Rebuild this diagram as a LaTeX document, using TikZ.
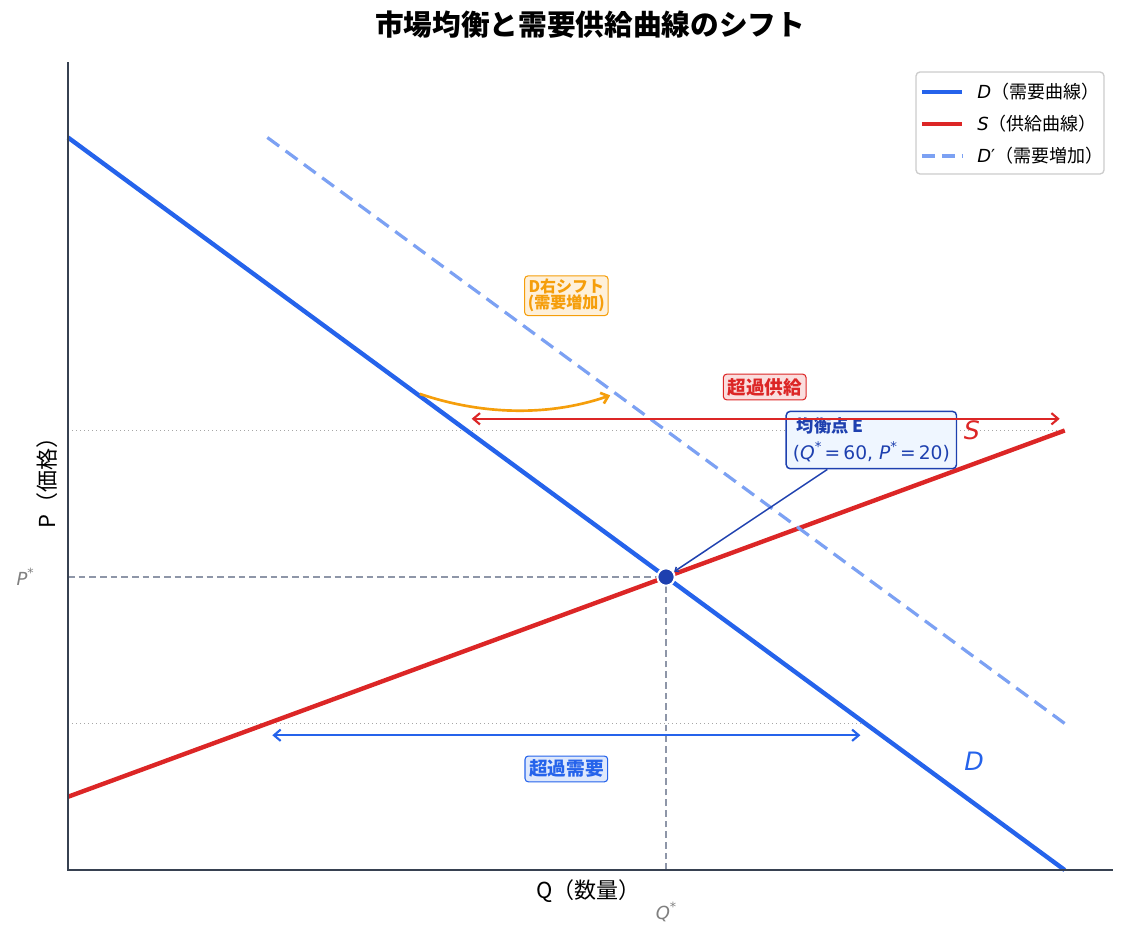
\documentclass[tikz,border=0pt]{standalone}
\usepackage{fontspec}
\setmainfont{Noto Sans CJK JP}
\newfontfamily\dvs{DejaVu Sans}
\usetikzlibrary{arrows.meta}
\definecolor{dcol}{HTML}{2563EB}
\definecolor{scol}{HTML}{DC2626}
\definecolor{shiftcol}{HTML}{F59E0B}
\definecolor{eqcol}{HTML}{1E40AF}
\definecolor{eqfill}{HTML}{EFF6FF}
\definecolor{axcol}{HTML}{374151}
\definecolor{refcol}{HTML}{8E96A8}
\newcommand{\vi}[1]{{\dvs\itshape #1}}
\newcommand{\fs}[1]{\fontsize{#1}{#1}\selectfont}
\newcommand{\stp}[1]{\raisebox{0.45em}{\dvs\fs{#1}*}}
\tikzset{
  tag/.style={draw, rounded corners=2.5pt, line width=0.8pt, inner sep=3pt, font=\bfseries\fs{14}},
}
\begin{document}
\begin{tikzpicture}[>={Straight Barb[length=5pt,width=8.5pt]}, x=7.475pt, y=10.9875pt]
      \useasboundingbox (-6.823,-4.710) rectangle (106.45,59.386);
      % guides
      \draw[gray!70,line width=0.8pt,dash pattern=on 1pt off 2pt] (0,30) -- (100,30);
      \draw[gray!70,line width=0.8pt,dash pattern=on 1pt off 2pt] (0,10) -- (80,10);
      \draw[refcol,line width=1.1pt,dash pattern=on 5pt off 3pt] (0,20) -- (60,20);
      \draw[refcol,line width=1.1pt,dash pattern=on 5pt off 3pt] (60,0) -- (60,20);
      % curves
      \draw[dcol,line width=3.3pt,domain=0:100] plot (\x,{50-0.5*\x});
      \draw[scol,line width=3.3pt,domain=0:100] plot (\x,{5+0.25*\x});
      \draw[dcol!60,line width=2.4pt,dash pattern=on 11pt off 6pt,domain=20:100] plot (\x,{60-0.5*\x});
      \node[text=scol,font=\fs{19}] (slab) at (90.7,30.0) {\vi{S}};
      \node[text=dcol,font=\fs{19}] (dlab) at (90.9,7.4) {\vi{D}};
      % equilibrium
      \node[circle,fill=eqcol,draw=white,line width=1.5pt,minimum size=13pt,inner sep=0pt] (E) at (60,20) {};
      \node[draw=eqcol,fill=eqfill,rounded corners=3pt,line width=1.1pt,align=left,inner sep=5pt,text=eqcol] (ebox) at (80.6,29.35)
        {{\bfseries\fs{13} 均衡点 E}\\[4pt]{\dvs\fs{14}(\vi{Q}\stp{10}\,=\,60, \vi{P}\stp{10}\,=\,20)}};
      \draw[-{Straight Barb[length=2.5pt,width=4pt]},eqcol,line width=1.1pt] (ebox) -- (E);
      % excess supply / demand
      \coordinate (xs1) at (40.5,30.8);
      \coordinate (xs2) at (99.5,30.8);
      \draw[<->,scol,line width=1.6pt] (xs1) -- (xs2);
      \node[tag,draw=scol,fill=scol!15,text=scol] (xslab) at (69.9,32.97) {超過供給};
      \coordinate (xd1) at (20.5,9.2);
      \coordinate (xd2) at (79.5,9.2);
      \draw[<->,dcol,line width=1.6pt] (xd1) -- (xd2);
      \node[tag,draw=dcol,fill=dcol!15,text=dcol] (xdlab) at (50,6.9) {超過需要};
      % shift
      \coordinate (sh1) at (35.3,32.5);
      \coordinate (sh2) at (54.4,32.4);
      \draw[->,shiftcol,line width=2pt] (sh1) .. controls (41.8,31.0) and (48.5,31.0) .. (sh2);
      \node[tag,draw=shiftcol,fill=shiftcol!15,text=shiftcol,align=center,font=\bfseries\fs{12},inner sep=2.5pt] (shlab) at (50,39.2) {D右シフト\\(需要増加)};
      % axes
      \draw[axcol,line width=1.5pt] (0,55.15) -- (0,0) -- (104.85,0);
      \node[text=gray,font=\fs{13.5}] (pstar) at (-4.3,20) {\vi{P}\stp{9.5}};
      \node[text=gray,font=\fs{13.5}] (qstar) at (60,-2.87) {\vi{Q}\stp{9.5}};
      \node[font=\fs{16.5}] (xlab) at (52.2,-1.43) {Q（数量）};
      \node[font=\fs{16.5},rotate=90] (ylab) at (-2.1,26.8) {P（価格）};
      \node[font=\bfseries\fs{21.5}] (title) at (52.4,57.68) {市場均衡と需要供給曲線のシフト};
      % legend
      \node[draw=gray!40,fill=white,rounded corners=3pt,line width=1pt,minimum width=141pt,minimum height=76.5pt] (lgd) at (94.51,50.99) {};
      \draw[dcol,line width=3.3pt] (85.68,53.11) -- (89.7,53.11);
      \draw[scol,line width=3.3pt] (85.68,50.92) -- (89.7,50.92);
      \draw[dcol!60,line width=2.4pt,dash pattern=on 10pt off 5pt] (85.68,48.74) -- (89.7,48.74);
      \node[anchor=west,font=\fs{13.5},inner sep=0pt] (lgd1) at (91.2,53.11) {\vi{D}（需要曲線）};
      \node[anchor=west,font=\fs{13.5},inner sep=0pt] (lgd2) at (91.2,50.92) {\vi{S}（供給曲線）};
      \node[anchor=west,font=\fs{13.5},inner sep=0pt] (lgd3) at (91.2,48.74) {\vi{D}{\dvs′}（需要増加）};
    \end{tikzpicture}
\end{document}
